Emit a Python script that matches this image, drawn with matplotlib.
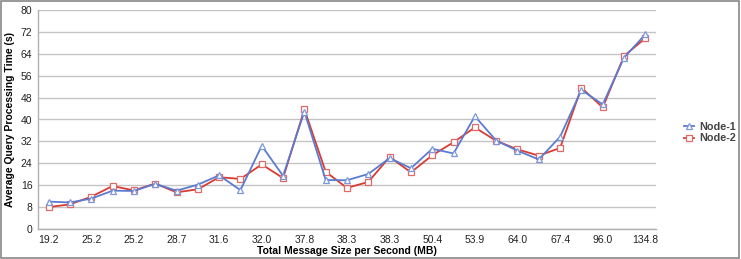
import numpy as np
import matplotlib.pyplot as plt
from matplotlib.patches import Rectangle

plt.rcParams['font.family'] = ['Liberation Sans', 'DejaVu Sans']

# x tick labels (shown on every second point)
sizes = ['19.2', '', '25.2', '', '25.2', '', '28.7', '', '31.6', '', '32.0', '',
         '37.8', '', '38.3', '', '38.3', '', '50.4', '', '53.9', '', '64.0', '',
         '67.4', '', '96.0', '', '134.8']

node1 = [10.0, 9.7, 11.1, 14.0, 13.9, 16.5, 14.0, 16.2, 19.6, 14.2,
         30.4, 19.4, 42.9, 17.9, 17.8, 20.1, 25.9, 22.2, 29.3, 27.6,
         41.2, 32.3, 28.6, 25.4, 33.7, 50.8, 45.5, 62.6, 71.1]
node2 = [8.0, 9.0, 11.8, 15.7, 14.1, 16.6, 13.4, 14.5, 18.9, 18.3,
         23.6, 18.6, 43.7, 20.9, 15.0, 17.2, 26.3, 20.7, 26.9, 31.7,
         37.1, 32.2, 29.1, 26.8, 29.6, 51.6, 44.4, 63.2, 69.7]

blue = '#5a7bd0'
red = '#d93a32'

fig = plt.figure(figsize=(7.41, 2.59), dpi=100)
ax = fig.add_axes([38/741, 30/259, 618/741, 219/259])

x = np.arange(len(node1))
ax.plot(x, node1, color=blue, lw=1.3, marker='^', ms=5, mfc='white',
        mec='#7d97dd', mew=0.9, label='Node-1', zorder=3)
ax.plot(x, node2, color=red, lw=1.3, marker='s', ms=4.5, mfc='white',
        mec='#e06a66', mew=0.9, label='Node-2', zorder=2)

ax.set_xlim(-0.5, len(x) - 0.5)
ax.set_ylim(0, 80)
ax.set_yticks(np.arange(0, 81, 8))
ax.set_xticks(x)
ax.set_xticklabels(sizes)
ax.tick_params(length=0, labelsize=7.5, colors='#222222', pad=4)
ax.grid(axis='y', color='#c4c4c4', lw=1.0)
ax.set_axisbelow(True)
for s in ['top', 'right']:
    ax.spines[s].set_visible(False)
for s in ['left', 'bottom']:
    ax.spines[s].set_color('#b0b0b0')
    ax.spines[s].set_linewidth(1.0)

ax.set_xlabel('Total Message Size per Second (MB)', fontsize=7.5,
              fontweight='bold', labelpad=1)
ax.set_ylabel('Average Query Processing Time (s)', fontsize=7.5,
              fontweight='bold', labelpad=4)

leg = ax.legend(loc='center left', bbox_to_anchor=(1.03, 0.44), frameon=False,
                handlelength=0.9, handletextpad=0.5,
                labelspacing=0.15, prop={'weight': 'bold', 'size': 7.8})
for t in leg.get_texts():
    t.set_color('#444444')

fig.patches.append(Rectangle((0.001, 0.003), 0.996, 0.994, transform=fig.transFigure,
                             fill=False, edgecolor='#888888', lw=1.2))

fig.savefig('out.png', dpi=100)
